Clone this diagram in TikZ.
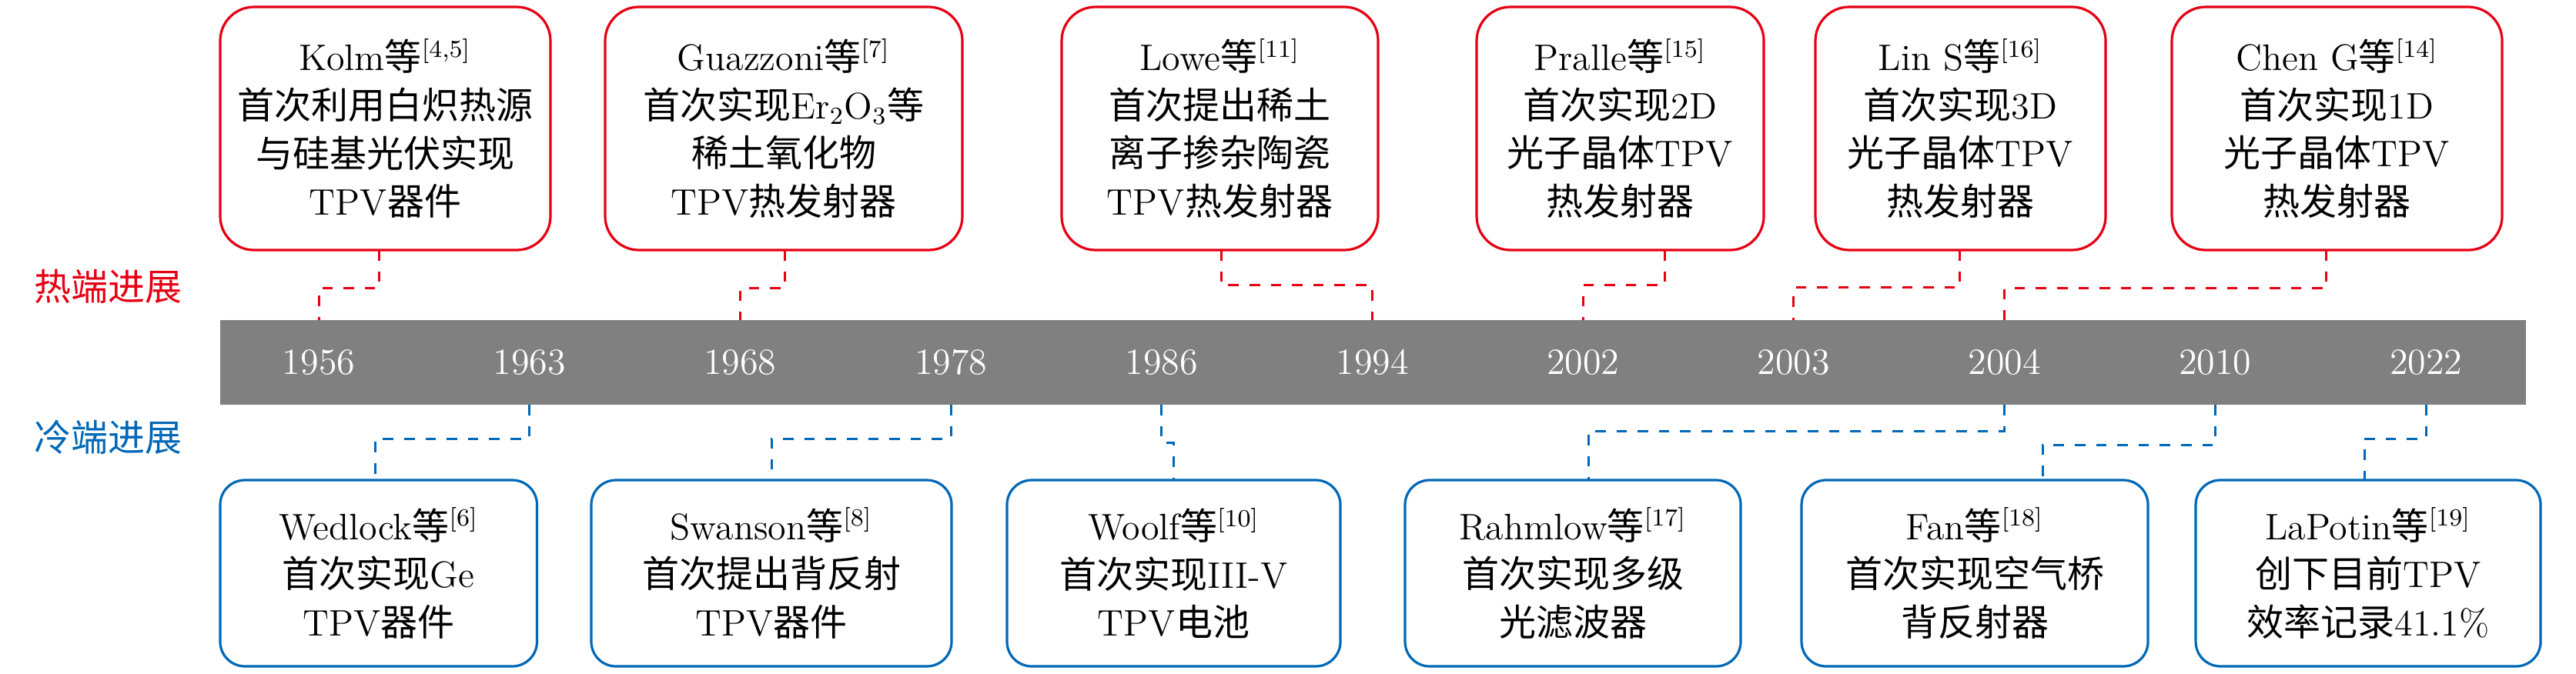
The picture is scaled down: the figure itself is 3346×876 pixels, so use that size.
\documentclass[tikz,border=0pt]{standalone}
\usepackage{fontspec}
\newfontfamily\zhfont{Noto Sans CJK SC}
\newcommand\zh[1]{{\zhfont #1}}
\definecolor{hotred}{RGB}{230,0,18}
\definecolor{coldblue}{RGB}{0,104,183}
\definecolor{bargray}{RGB}{128,128,128}
\begin{document}
\begin{tikzpicture}[x=0.25pt,y=-0.25pt,
  txt/.style={align=center, font=\fontsize{12}{15.65}\selectfont},
  hotbox/.style={txt, draw=hotred, line width=0.8pt, rounded corners=11pt, inner sep=0pt, outer sep=0pt, minimum height=79pt},
  coldbox/.style={txt, draw=coldblue, line width=0.8pt, rounded corners=8pt, inner sep=0pt, outer sep=0pt, minimum height=60.5pt},
  barstyle/.style={fill=bargray, inner sep=0pt, outer sep=0pt, minimum width=748.75pt, minimum height=27.5pt},
  year/.style={text=white, font=\fontsize{12}{14}\selectfont, inner sep=0pt},
  hotdash/.style={draw=hotred, line width=0.75pt, dash pattern=on 3.4pt off 3.5pt},
  colddash/.style={draw=coldblue, line width=0.75pt, dash pattern=on 3.4pt off 3.5pt},
  sidelabel/.style={font=\fontsize{12}{14}\selectfont\zhfont, inner sep=0pt}]
\useasboundingbox (0,0) rectangle (3346,876);

% timeline bar
\node[barstyle] (bar) at (1783.5,471) {};
\node[year] (y1956) at (414,471) {1956};
\node[year] (y1963) at (687.7,471) {1963};
\node[year] (y1968) at (961.4,471) {1968};
\node[year] (y1978) at (1235.1,471) {1978};
\node[year] (y1986) at (1508.8,471) {1986};
\node[year] (y1994) at (1782.5,471) {1994};
\node[year] (y2002) at (2056.2,471) {2002};
\node[year] (y2003) at (2329.9,471) {2003};
\node[year] (y2004) at (2603.6,471) {2004};
\node[year] (y2010) at (2877.3,471) {2010};
\node[year] (y2022) at (3151,471) {2022};

% side labels
\node[sidelabel, text=hotred] (hot) at (140,372) {热端进展};
\node[sidelabel, text=coldblue] (cold) at (140,568) {冷端进展};

% hot-end boxes
\node[hotbox, minimum width=429*0.25pt] (T1) at (500.5,167)
  {Kolm\zh{等}$^{[4,5]}$\\ \zh{首次利用白炽热源}\\ \zh{与硅基光伏实现}\\ TPV\zh{器件}};
\node[hotbox, minimum width=464*0.25pt] (T2) at (1018,167)
  {Guazzoni\zh{等}$^{[7]}$\\ \zh{首次实现}Er$_2$O$_3$\zh{等}\\ \zh{稀土氧化物}\\ TPV\zh{热发射器}};
\node[hotbox, minimum width=411*0.25pt] (T3) at (1584.5,167)
  {Lowe\zh{等}$^{[11]}$\\ \zh{首次提出稀土}\\ \zh{离子掺杂陶瓷}\\ TPV\zh{热发射器}};
\node[hotbox, minimum width=373*0.25pt] (T4) at (2104.5,167)
  {Pralle\zh{等}$^{[15]}$\\ \zh{首次实现}2D\\ \zh{光子晶体}TPV\\ \zh{热发射器}};
\node[hotbox, minimum width=377*0.25pt] (T5) at (2546.5,167)
  {Lin S\zh{等}$^{[16]}$\\ \zh{首次实现}3D\\ \zh{光子晶体}TPV\\ \zh{热发射器}};
\node[hotbox, minimum width=429*0.25pt] (T6) at (3035.5,167)
  {Chen G\zh{等}$^{[14]}$\\ \zh{首次实现}1D\\ \zh{光子晶体}TPV\\ \zh{热发射器}};

% cold-end boxes
\node[coldbox, minimum width=411.5*0.25pt] (B1) at (491.75,745)
  {Wedlock\zh{等}$^{[6]}$\\ \zh{首次实现}Ge\\ TPV\zh{器件}};
\node[coldbox, minimum width=468*0.25pt] (B2) at (1002,745)
  {Swanson\zh{等}$^{[8]}$\\ \zh{首次提出背反射}\\ TPV\zh{器件}};
\node[coldbox, minimum width=433*0.25pt] (B3) at (1524.5,745)
  {Woolf\zh{等}$^{[10]}$\\ \zh{首次实现}III-V\\ TPV\zh{电池}};
\node[coldbox, minimum width=436*0.25pt] (B4) at (2043,745)
  {Rahmlow\zh{等}$^{[17]}$\\ \zh{首次实现多级}\\ \zh{光滤波器}};
\node[coldbox, minimum width=450*0.25pt] (B5) at (2565,745)
  {Fan\zh{等}$^{[18]}$\\ \zh{首次实现空气桥}\\ \zh{背反射器}};
\node[coldbox, minimum width=448*0.25pt] (B6) at (3076,745)
  {LaPotin\zh{等}$^{[19]}$\\ \zh{创下目前}TPV\\ \zh{效率记录}41.1\%};

% hot-end connectors
\draw[hotdash] ([xshift=-2pt]T1.south) -- ++(0,50) -| (y1956 |- bar.north);
\draw[hotdash] ([xshift=0.25pt]T2.south) -- ++(0,50) -| (y1968 |- bar.north);
\draw[hotdash] ([xshift=0.4pt]T3.south) -- ++(0,46) -| (y1994 |- bar.north);
\draw[hotdash] ([xshift=14.4pt]T4.south) -- ++(0,46) -| (y2002 |- bar.north);
\draw[hotdash] ([xshift=-0.25pt]T5.south) -- ++(0,49) -| (y2003 |- bar.north);
\draw[hotdash] ([xshift=-3.4pt]T6.south) -- ++(0,50) -| (y2004 |- bar.north);

% cold-end connectors
\draw[colddash] (y1963 |- bar.south) -- ++(0,44) -| ([xshift=-1pt]B1.north);
\draw[colddash] (y1978 |- bar.south) -- ++(0,44) -| (B2.north);
\draw[colddash] (y1986 |- bar.south) -- ++(0,49) -| (B3.north);
\draw[colddash] (y2004 |- bar.south) -- ++(0,34) -| ([xshift=5pt]B4.north);
\draw[colddash] (y2010 |- bar.south) -- ++(0,52) -| ([xshift=22pt]B5.north);
\draw[colddash] (y2022 |- bar.south) -- ++(0,44) -| ([xshift=-1.25pt]B6.north);
\end{tikzpicture}
\end{document}
